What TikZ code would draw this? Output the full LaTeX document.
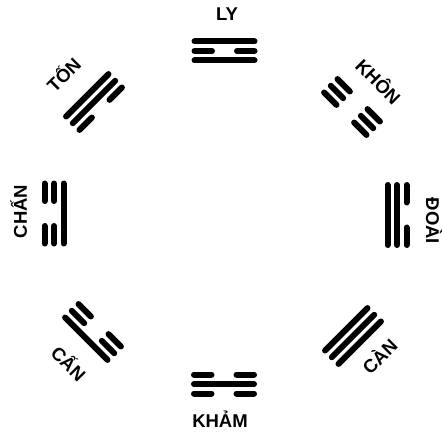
\documentclass[tikz,border=0pt]{standalone}
\usepackage{fontspec}
\setmainfont{Liberation Sans}
\tikzset{
  yao/.style={line width=6pt, line cap=round},
  lbl/.style={font=\bfseries\fontsize{18.5}{20}\selectfont, inner sep=0pt, anchor=base}
}
\newcommand\yaoline[2]{%
  \ifnum#2=1
    \draw[yao] (-30,#1) -- (30,#1);
  \else
    \draw[yao] (-30,#1) -- (-12.5,#1) (12.5,#1) -- (30,#1);
  \fi}
\newcommand\trigram[5]{%
  \begin{scope}[shift={(#1)}, rotate=#2]
    \yaoline{-9.5}{#3}\yaoline{0}{#4}\yaoline{9.5}{#5}
  \end{scope}}
\begin{document}
\begin{tikzpicture}[x=1pt,y=1pt]
  \fill[white] (0,0) rectangle (442,432);
  \useasboundingbox (0,0) rectangle (442,432);
  % trigrams: inner, middle, outer line (1 = solid, 0 = broken)
  \trigram{224.5,381}{0}{1}{0}{1}      % LY
  \trigram{352,325}{-45}{0}{0}{0}      % KHON
  \trigram{397,217}{-90}{1}{1}{0}      % DOAI
  \trigram{353,96}{-135}{1}{1}{1}      % CAN (heaven)
  \trigram{224,48}{180}{0}{1}{0}       % KHAM
  \trigram{93,100}{135}{0}{0}{1}       % CAN (mountain)
  \trigram{54,218.5}{90}{1}{0}{0}      % CHAN
  \trigram{94,330}{45}{0}{1}{1}        % TON
  % labels
  \node[lbl] (ly) at (227,411) {LY};
  \node[lbl] (kham) at (220,5) {KHẢM};
  \node[lbl, rotate=90] (chan) at (27,220.5) {CHẤN};
  \node[lbl, rotate=-90] (doai) at (426,211) {ĐOÀI};
  \node[lbl, rotate=45] (ton) at (68.6,352.4) {TỐN};
  \node[lbl, rotate=-45] (khon) at (373.4,345.4) {KHÔN};
  \node[lbl, rotate=-45] (canm) at (63.7,63.4) {CẤN};
  \node[lbl, rotate=45] (canh) at (384.6,70.4) {CÀN};
\end{tikzpicture}
\end{document}
